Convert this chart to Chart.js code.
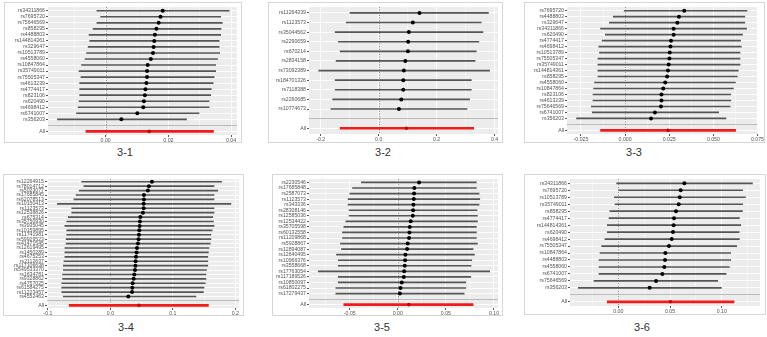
<!DOCTYPE html>
<html><head><meta charset="utf-8">
<script src="https://cdn.jsdelivr.net/npm/chart.js@4.4.1/dist/chart.umd.min.js"></script>
<style>
body{margin:0;background:#fff;width:767px;height:337px;overflow:hidden;position:relative;font-family:"Liberation Sans",Arial,sans-serif}
.box{position:absolute;border:1px solid #d6d6d6;box-sizing:border-box}
canvas{position:absolute}
.cap{position:absolute;font-size:11px;color:#333;transform:translate(-50%,-50%);white-space:nowrap}
</style></head><body>
<script>
// ---------- Panel 3-1 ----------
const p1Snps = ['rs34311866','rs7695720','rs75646569','rs858295','rs4488803','rs144814361','rs329647','rs10513789','rs4558060','rs10847864','rs35749011','rs75505347','rs4613239','rs4774417','rs823106','rs620490','rs4698412','rs6741007','rs356203'];
const p1Est = [0.0182,0.0175,0.0169,0.0162,0.0157,0.0155,0.0153,0.0151,0.0144,0.0134,0.0132,0.0132,0.0130,0.0127,0.0125,0.0122,0.0120,0.0101,0.0050];
const p1Lo  = [-0.0028,-0.0016,-0.0028,-0.0040,-0.0053,-0.0051,-0.0056,-0.0061,-0.0066,-0.0077,-0.0085,-0.0079,-0.0083,-0.0083,-0.0083,-0.0085,-0.0088,-0.0093,-0.0154];
const p1Hi  = [0.0394,0.0367,0.0372,0.0368,0.0367,0.0362,0.0362,0.0364,0.0357,0.0351,0.0351,0.0346,0.0343,0.0337,0.0335,0.0330,0.0330,0.0298,0.0258];
const p1All = [0.0139,-0.0063,0.0344];
const p1Ticks = [0,0.02,0.04];
const p1TickLabels = ['0.00','0.02','0.04'];

// ---------- Panel 3-2 ----------
const p2Snps = ['rs11264339','rs1123573','rs35044562','rs2290659','rs670214','rs2834158','rs73092389','rs184701326','rs7118388','rs2260685','rs10774673'];
const p2Est = [0.141,0.118,0.104,0.102,0.101,0.092,0.087,0.085,0.085,0.078,0.070];
const p2Lo  = [-0.099,-0.112,-0.150,-0.139,-0.133,-0.147,-0.207,-0.150,-0.150,-0.159,-0.165];
const p2Hi  = [0.379,0.354,0.360,0.346,0.337,0.333,0.383,0.320,0.320,0.314,0.305];
const p2All = [0.096,-0.133,0.328];
const p2Ticks = [-0.2,0,0.2,0.4];
const p2TickLabels = ['-0.2','0.0','0.2','0.4'];

// ---------- Panel 3-3 ----------
const p3Snps = ['rs7695720','rs4488803','rs329647','rs34311866','rs620490','rs4774417','rs4698412','rs10513789','rs75505347','rs35749011','rs144814361','rs858295','rs4558060','rs10847864','rs823106','rs4613239','rs75646569','rs6741007','rs356203'];
const p3Est = [0.0335,0.0305,0.0296,0.0275,0.0275,0.0260,0.0257,0.0253,0.0251,0.0247,0.0243,0.0238,0.0227,0.0216,0.0206,0.0206,0.0203,0.0169,0.0147];
const p3Lo  = [-0.0005,-0.0067,-0.0089,-0.0139,-0.0112,-0.0130,-0.0149,-0.0145,-0.0154,-0.0154,-0.0154,-0.0154,-0.0173,-0.0178,-0.0182,-0.0182,-0.0191,-0.0186,-0.0275];
const p3Hi  = [0.0691,0.0678,0.0678,0.0688,0.0665,0.0654,0.0658,0.0651,0.0651,0.0651,0.0641,0.0636,0.0625,0.0613,0.0599,0.0599,0.0595,0.0530,0.0571];
const p3All = [0.0243,-0.0139,0.0626];
const p3Ticks = [-0.025,0,0.025,0.05,0.075];
const p3TickLabels = ['-0.025','0.000','0.025','0.050','0.075'];

// ---------- Panel 3-4 ----------
const p4Snps = ['rs12264915','rs78014712','rs5023077','rs17685845','rs62078513','rs10150413','rs1123573','rs12538826','rs675314','rs35750930','rs3935045','rs10159895','rs11741981','rs59929523','rs41471545','rs12619495','rs1450289','rs4675253','rs2112637','rs117106638','rs549533370','rs1634781','rs9328862','rs4757025','rs61584275','rs11223457','rs4552463'];
const p4Est = [0.0665,0.0617,0.0600,0.0537,0.0537,0.0532,0.0532,0.0521,0.0479,0.0473,0.0468,0.0463,0.0457,0.0452,0.0441,0.0426,0.0420,0.0410,0.0404,0.0400,0.0394,0.0383,0.0372,0.0356,0.0351,0.0346,0.0287];
const p4Lo  = [-0.046,-0.0426,-0.050,-0.055,-0.0585,-0.085,-0.062,-0.062,-0.0676,-0.070,-0.073,-0.070,-0.070,-0.071,-0.071,-0.073,-0.073,-0.073,-0.0745,-0.0755,-0.0755,-0.0766,-0.0766,-0.078,-0.078,-0.078,-0.0755];
const p4Hi  = [0.178,0.166,0.172,0.166,0.166,0.193,0.166,0.166,0.164,0.165,0.166,0.163,0.161,0.161,0.160,0.158,0.157,0.156,0.156,0.156,0.154,0.153,0.153,0.152,0.150,0.149,0.137];
const p4All = [0.0457,-0.066,0.157];
const p4Ticks = [-0.1,0,0.1,0.2];
const p4TickLabels = ['-0.1','0.0','0.1','0.2'];

// ---------- Panel 3-5 ----------
const p5Snps = ['rs2230546','rs17685848','rs2587073','rs1123573','rs343336','rs28308146','rs12585036','rs12534422','rs35705598','rs60132558','rs11209868','rs5928867','rs12894087','rs12640495','rs10966376','rs3558668','rs17763054','rs117189526','rs10850097','rs61802275','rs17279437'];
const p5Est = [0.0221,0.0172,0.0169,0.0166,0.0162,0.0159,0.0155,0.0134,0.0124,0.0121,0.0117,0.0103,0.0097,0.0079,0.0076,0.0072,0.0066,0.0062,0.0041,0.0028,0.0021];
const p5Lo  = [-0.0379,-0.0472,-0.0500,-0.0517,-0.0517,-0.0507,-0.0507,-0.0541,-0.0562,-0.0576,-0.0576,-0.0597,-0.0586,-0.0638,-0.0620,-0.0620,-0.0828,-0.0620,-0.0620,-0.0645,-0.0645];
const p5Hi  = [0.0817,0.0817,0.0845,0.0852,0.0845,0.0824,0.0828,0.0828,0.0817,0.0817,0.0817,0.0828,0.0783,0.0797,0.0769,0.0762,0.0955,0.0759,0.0707,0.0707,0.0690];
const p5All = [0.0114,-0.0562,0.0783];
const p5Ticks = [-0.05,0,0.05,0.1];
const p5TickLabels = ['-0.05','0.00','0.05','0.10'];

// ---------- Panel 3-6 ----------
const p6Snps = ['rs34311866','rs7695720','rs10513789','rs35749011','rs858295','rs4774417','rs144814361','rs620490','rs4698412','rs75505347','rs10847864','rs4488803','rs4558060','rs6741007','rs75646569','rs356203'];
const p6Est = [0.0639,0.0603,0.0594,0.0584,0.0558,0.0539,0.0535,0.0529,0.0516,0.0490,0.0455,0.0452,0.0445,0.0426,0.0365,0.0303];
const p6Lo  = [-0.0016,0.0000,-0.0039,-0.0032,-0.0081,-0.0090,-0.0106,-0.0106,-0.0129,-0.0161,-0.0177,-0.0187,-0.0187,-0.0187,-0.0235,-0.0387];
const p6Hi  = [0.1297,0.1203,0.1229,0.1203,0.1200,0.1171,0.1184,0.1168,0.1171,0.1145,0.1087,0.1087,0.1074,0.1042,0.0961,0.0997];
const p6All = [0.0503,-0.0106,0.1119];
const p6Ticks = [0,0.05,0.1];
const p6TickLabels = ['0.00','0.05','0.10'];

const captions = ['3-1','3-2','3-3','3-4','3-5','3-6'];

// ---------- layout (positions only) ----------
const frames = [
  {box:[4,2,242,143],   plot:[48,6,238,135],   xr:[-0.0184,0.0419], cap:[125,152]},
  {box:[268,2,503,143], plot:[309,7,499,134],  xr:[-0.2405,0.412],  cap:[383,152]},
  {box:[524,2,765,143], plot:[567,5,759,134],  xr:[-0.0329,0.075],  cap:[634,152]},
  {box:[3,174,244,316], plot:[47,178,240,308], xr:[-0.1016,0.206],  cap:[126,327]},
  {box:[272,174,503,316], plot:[309,178,499,308], xr:[-0.0924,0.1042], cap:[382,327]},
  {box:[524,174,766,315], plot:[570,177,760,306], xr:[-0.0467,0.137], cap:[642,327]}
];

const panels = [
  [p1Snps,p1Est,p1Lo,p1Hi,p1All,p1Ticks,p1TickLabels],
  [p2Snps,p2Est,p2Lo,p2Hi,p2All,p2Ticks,p2TickLabels],
  [p3Snps,p3Est,p3Lo,p3Hi,p3All,p3Ticks,p3TickLabels],
  [p4Snps,p4Est,p4Lo,p4Hi,p4All,p4Ticks,p4TickLabels],
  [p5Snps,p5Est,p5Lo,p5Hi,p5All,p5Ticks,p5TickLabels],
  [p6Snps,p6Est,p6Lo,p6Hi,p6All,p6Ticks,p6TickLabels]
];

const FONT = {family:'"Liberation Sans", Arial, sans-serif', size:5.2};
const TXT = '#555555';

const bgPlugin = {id:'bg', beforeDraw(chart){const a=chart.chartArea,c=chart.ctx;c.save();c.fillStyle='#ECECEC';c.fillRect(a.left,a.top,a.right-a.left,a.bottom-a.top);c.restore();}};
const zeroPlugin = {id:'zero', beforeDatasetsDraw(chart){const a=chart.chartArea,c=chart.ctx;const px=Math.round(chart.scales.x.getPixelForValue(0))+0.5;c.save();c.strokeStyle='#555';c.lineWidth=0.7;c.setLineDash([1,1.6]);c.beginPath();c.moveTo(px,a.top);c.lineTo(px,a.bottom);c.stroke();c.restore();}};

function isMajor(v, majors){return majors.some(m=>Math.abs(m-v)<1e-9);}

panels.forEach((p,k)=>{
  const [snps,est,lo,hi,all,majors,majorLabels] = p;
  const f = frames[k];
  const box = document.createElement('div');
  box.className='box';
  box.style.left=f.box[0]+'px'; box.style.top=f.box[1]+'px';
  box.style.width=(f.box[2]-f.box[0])+'px'; box.style.height=(f.box[3]-f.box[1])+'px';
  document.body.appendChild(box);
  const cl=f.box[0]+1, ct=f.box[1]+1, W=f.box[2]-f.box[0]-2, H=f.box[3]-f.box[1]-2;
  const cv=document.createElement('canvas');
  cv.width=W; cv.height=H; cv.style.left=cl+'px'; cv.style.top=ct+'px';
  cv.style.width=W+'px'; cv.style.height=H+'px';
  document.body.appendChild(cv);
  const cap=document.createElement('div'); cap.className='cap'; cap.textContent=captions[k];
  cap.style.left=f.cap[0]+'px'; cap.style.top=f.cap[1]+'px'; document.body.appendChild(cap);

  const yW=f.plot[0]-cl, xH=(ct+H)-f.plot[3], padT=f.plot[1]-ct, padR=(cl+W)-f.plot[2];
  const n=snps.length;
  const rows=snps.concat(['','All']);
  const step=majors[1]-majors[0];
  const xmin=f.xr[0], xmax=f.xr[1];

  new Chart(cv,{
    type:'bar',
    data:{datasets:[
      {type:'bar',indexAxis:'y',grouped:false,barThickness:1,backgroundColor:'#555555',order:4,
       data:snps.map((s,i)=>({y:i,x:[lo[i],hi[i]]}))},
      {type:'bar',indexAxis:'y',grouped:false,barThickness:2,backgroundColor:'#f21b1b',order:3,
       data:[{y:n+1,x:[all[1],all[2]]}]},
      {type:'scatter',pointRadius:2,pointBorderWidth:0,backgroundColor:'#000',pointBackgroundColor:'#000',order:2,
       data:est.map((e,i)=>({x:e,y:i}))},
      {type:'scatter',pointRadius:1.8,pointBorderWidth:0,pointBackgroundColor:'#c80000',order:1,
       data:[{x:all[0],y:n+1}]}
    ]},
    options:{
      indexAxis:'y',responsive:false,animation:false,devicePixelRatio:1,
      layout:{padding:{top:padT,right:padR,left:0,bottom:0}},
      plugins:{legend:{display:false},tooltip:{enabled:false}},
      scales:{
        x:{type:'linear',position:'bottom',min:xmin,max:xmax,offset:false,
           afterBuildTicks(s){
             const vals=[];
             const start=majors[0]-step*Math.ceil((majors[0]-xmin)/step+1);
             for(let v=start; v<=xmax+1e-12; v+=step/2){ if(v>=xmin-1e-12) vals.push(+v.toFixed(10)); }
             majors.forEach(m=>{ if(m>=xmin-1e-12 && m<=xmax+1e-12 && !vals.some(v=>Math.abs(v-m)<1e-9)) vals.push(m); });
             vals.sort((a,b)=>a-b);
             s.ticks=vals.map(v=>({value:v}));
           },
           afterFit(s){s.height=xH;},
           ticks:{autoSkip:false,maxRotation:0,padding:0,font:FONT,color:TXT,
             callback(v){const i=majors.findIndex(m=>Math.abs(m-v)<1e-9);return i>=0?majorLabels[i]:'';}},
           grid:{color:'#ffffff',drawTicks:true,tickLength:2,
             lineWidth:c=>(c.tick&&isMajor(c.tick.value,majors))?0.9:0.45,
             tickColor:c=>(c.tick&&isMajor(c.tick.value,majors))?'#444':'rgba(0,0,0,0)'},
           border:{display:false}},
        y:{type:'linear',position:'left',reverse:true,min:-0.6,max:n+1.6,offset:false,
           afterBuildTicks(s){s.ticks=rows.map((r,i)=>({value:i}));},
           afterFit(s){s.width=yW;},
           ticks:{autoSkip:false,padding:1,font:FONT,color:TXT,callback(v){return rows[v]!==undefined?rows[v]:'';}},
           grid:{offset:false,drawTicks:true,tickLength:2,lineWidth:0.9,
             color:c=>(c.tick&&rows[c.tick.value]==='')?'#b5b5b5':'#ffffff',
             tickColor:c=>(c.tick&&rows[c.tick.value]==='')?'rgba(0,0,0,0)':'#444'},
           border:{display:false}}
      }
    },
    plugins:[bgPlugin,zeroPlugin]
  });
});
</script>
</body></html>
